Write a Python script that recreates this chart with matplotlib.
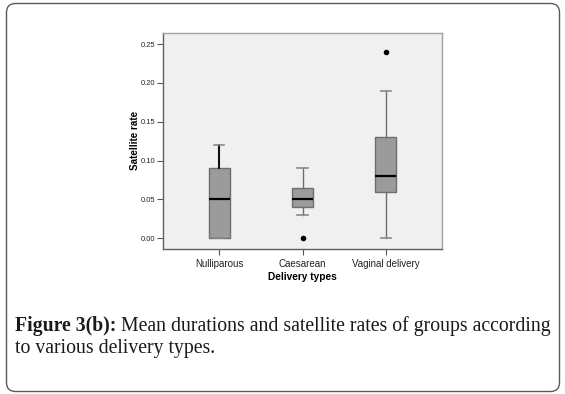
import matplotlib
matplotlib.use("Agg")
import matplotlib.pyplot as plt
from matplotlib.patches import FancyBboxPatch

# values
categories = ["Nulliparous", "Caesarean", "Vaginal delivery"]
whislo = [0.0, 0.03, 0.0]
q1 = [0.0, 0.04, 0.06]
med = [0.05, 0.05, 0.08]
q3 = [0.09, 0.065, 0.13]
whishi = [0.12, 0.09, 0.19]
fliers = [[], [0.0], [0.24]]
yticks = [0.0, 0.05, 0.10, 0.15, 0.20, 0.25]

caption_bold = "Figure 3(b):"
caption_rest = " Mean durations and satellite rates of groups according"
caption_line2 = "to various delivery types."

W, H = 565, 394
fig = plt.figure(figsize=(W / 100, H / 100), dpi=100)
fig.patch.set_facecolor("white")

# frame + caption layer in pixel coordinates
bg = fig.add_axes([0, 0, 1, 1])
bg.set_xlim(0, W)
bg.set_ylim(H, 0)
bg.axis("off")
bg.add_patch(FancyBboxPatch((6.5, 3.5), 553, 388,
                            boxstyle="round,pad=0,rounding_size=9",
                            fill=False, edgecolor="#5a5a5a", linewidth=1.0))

serif = ["Liberation Serif", "DejaVu Serif"]
cap_size = 14.2
t1 = bg.text(15, 331, caption_bold, family=serif, fontsize=cap_size,
             fontweight="bold", ha="left", va="baseline", color="#1a1a1a")
bg.annotate(caption_rest, xy=(1, 0), xycoords=t1, ha="left", va="bottom",
            family=serif, fontsize=cap_size, color="#1a1a1a")
bg.text(15, 352.5, caption_line2, family=serif, fontsize=cap_size,
        ha="left", va="baseline", color="#1a1a1a")

# the box plot
ax = fig.add_axes([163.3 / W, 1 - 249 / H, (441.7 - 163.3) / W, (249 - 32.7) / H])
ax.set_facecolor("#f0f0f0")

stats = []
for i, name in enumerate(categories):
    stats.append(dict(label=name, whislo=whislo[i], q1=q1[i], med=med[i],
                      q3=q3[i], whishi=whishi[i], fliers=fliers[i]))

gray = "#6e6e6e"
res = ax.bxp(stats, positions=[1, 2, 3], widths=0.25, patch_artist=True,
             boxprops=dict(facecolor="#9b9b9b", edgecolor=gray, linewidth=1.0),
             whiskerprops=dict(color=gray, linewidth=1.0),
             capprops=dict(color="#8a8a8a", linewidth=1.2),
             medianprops=dict(color="black", linewidth=1.6),
             flierprops=dict(marker="o", markerfacecolor="black",
                             markeredgecolor="black", markersize=3))
# upper whisker of the first group is drawn dark in the original
res["whiskers"][1].set_color("#111111")
res["whiskers"][1].set_linewidth(1.5)

ax.set_xlim(0.33, 3.67)
ax.set_ylim(-0.0138, 0.2646)
ax.set_yticks(yticks)
ax.set_yticklabels(["%.2f" % v for v in yticks])
ax.set_xticks([1, 2, 3])
ax.set_xticklabels(categories)

sans = ["Liberation Sans", "DejaVu Sans"]
for lab in ax.get_xticklabels():
    lab.set_family(sans)
    lab.set_fontsize(7)
    lab.set_color("#222222")
for lab in ax.get_yticklabels():
    lab.set_family(sans)
    lab.set_fontsize(5.4)
    lab.set_color("#222222")
ax.tick_params(axis="both", direction="out", length=4, width=0.8,
               color="#555555", pad=3)
ax.tick_params(axis="y", pad=2)

ax.set_xlabel("Delivery types", family=sans, fontsize=7.3, fontweight="bold")
ax.set_ylabel("Satellite rate", family=sans, fontsize=7.1, fontweight="bold")
ax.xaxis.label.set_va("center")
ax.yaxis.label.set_va("center")
ax.xaxis.set_label_coords(0.5, -0.13)
ax.yaxis.set_label_coords(-0.1, 0.5)

for side in ["left", "bottom"]:
    ax.spines[side].set_color("#606060")
for side in ["top", "right"]:
    ax.spines[side].set_color("#a0a0a0")
for s in ax.spines.values():
    s.set_linewidth(1.0)

fig.savefig("out.png", dpi=100)
